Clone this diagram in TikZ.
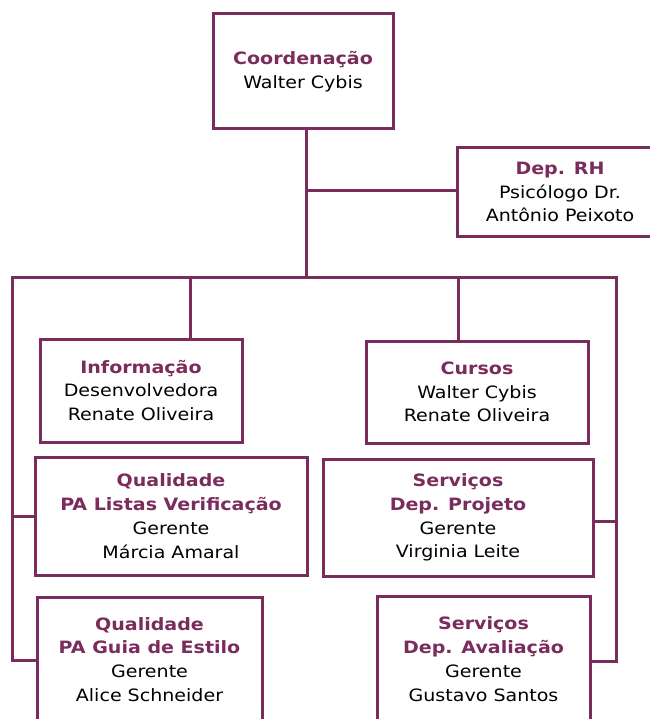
\documentclass[tikz,border=0pt]{standalone}
\usepackage{fontspec}
\newfontfamily\vfont[FakeStretch=1.12]{DejaVu Sans}
\definecolor{plum}{HTML}{7A2C5C}
\begin{document}
\begin{tikzpicture}[x=1pt,y=-1pt,
  box/.style={draw=plum, line width=3pt, fill=white, inner sep=0pt, align=center,
    font=\vfont\fontsize{17}{23.8}\selectfont},
  conn/.style={draw=plum, line width=3pt, line join=miter}]
\useasboundingbox (0,0) rectangle (649,719);
\newcommand{\ttl}[1]{\textcolor{plum}{\bfseries #1}}
% boxes
\node[box, minimum width=180pt, minimum height=115pt] (coord) at (303,71.5) {\ttl{Coordenação}\\Walter Cybis};
\node[box, minimum width=206pt, minimum height=88pt] (rh) at (560,192) {\ttl{Dep. RH}\\Psicólogo Dr.\\Antônio Peixoto};
\node[box, minimum width=202pt, minimum height=103pt] (info) at (141,390.5) {\ttl{Informação}\\Desenvolvedora\\Renate Oliveira};
\node[box, minimum width=222pt, minimum height=102pt] (cursos) at (477,392) {\ttl{Cursos}\\Walter Cybis\\Renate Oliveira};
\node[box, minimum width=272pt, minimum height=118pt] (lista) at (171,516) {\ttl{Qualidade}\\\ttl{PA Listas Verificação}\\Gerente\\Márcia Amaral};
\node[box, minimum width=270pt, minimum height=117pt] (proj) at (458,517.5) {\ttl{Serviços}\\\ttl{Dep. Projeto}\\Gerente\\Virginia Leite};
\node[box, minimum width=225pt, minimum height=125pt] (guia) at (149.5,659.5) {\ttl{Qualidade}\\\ttl{PA Guia de Estilo}\\Gerente\\Alice Schneider};
\node[box, minimum width=213pt, minimum height=126pt] (aval) at (483.5,659) {\ttl{Serviços}\\\ttl{Dep. Avaliação}\\Gerente\\Gustavo Santos};
% connector coordinates
\coordinate (ctop) at (306,129);
\coordinate (busL) at (12,277);
\coordinate (busR) at (616,277);
\coordinate (busC) at (306,277);
\coordinate (ti) at (190,277);
\coordinate (tc) at (458,277);
% connectors
\draw[conn] (ctop) -- (busC);
\draw[conn] (306,191) -- (rh.west |- 0,191);
\draw[conn] (guia.west |- 0,660) -| (busL) -- (busR) |- (aval.east |- 0,661);
\draw[conn] (busL |- lista.west) -- (lista.west);
\draw[conn] (busR |- 0,521) -- (proj.east |- 0,521);
\draw[conn] (ti) -- (ti |- info.north);
\draw[conn] (tc) -- (tc |- cursos.north);
\end{tikzpicture}
\end{document}
